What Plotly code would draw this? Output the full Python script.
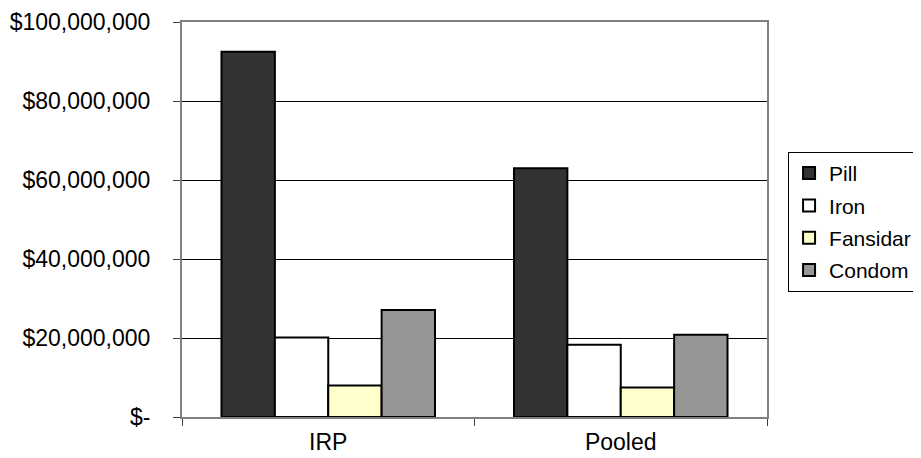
import plotly.graph_objects as go

categories = ["IRP", "Pooled"]
series_names = ["Pill", "Iron", "Fansidar", "Condom"]
pill = [92500000, 63000000]
iron = [20100000, 18300000]
fansidar = [8000000, 7500000]
condom = [27100000, 20800000]
tick_values = [0, 20000000, 40000000, 60000000, 80000000, 100000000]
tick_labels = ["$-", "$20,000,000", "$40,000,000", "$60,000,000", "$80,000,000", "$100,000,000"]

colors = ["#333333", "#FFFFFF", "#FFFFCC", "#969696"]
values = [pill, iron, fansidar, condom]

fig = go.Figure()
for name, vals, col in zip(series_names, values, colors):
    fig.add_trace(go.Bar(
        x=categories, y=vals, name=name, legendgroup=name,
        marker=dict(color=col, line=dict(color="black", width=2)),
    ))

FONT = "Liberation Sans, Arial, sans-serif"
fig.update_layout(
    width=921, height=458,
    margin=dict(l=174, r=141, t=14, b=49),
    paper_bgcolor="white", plot_bgcolor="white",
    barmode="group", bargap=0.27, bargroupgap=0,
    font=dict(family=FONT, size=21, color="black"),
    showlegend=True,
    legend=dict(
        x=1.036, y=0.671, xanchor="left", yanchor="top",
        bordercolor="black", borderwidth=1, bgcolor="white",
        font=dict(family=FONT, size=21, color="black"),
        traceorder="grouped", tracegroupgap=2,
    ),
)
fig.update_xaxes(
    automargin=False,
    showgrid=False, showline=True, linecolor="#808080", linewidth=2, mirror=True,
    ticks="outside", ticklen=7, tickcolor="#404040", tickson="boundaries",
    ticklabelstandoff=3,
    tickfont=dict(family=FONT, size=23, color="black"),
)
fig.update_yaxes(
    automargin=False,
    range=[0, 100000000], tickvals=tick_values, ticktext=tick_labels,
    showgrid=True, gridcolor="black", gridwidth=1,
    showline=True, linecolor="#808080", linewidth=2, mirror=True,
    ticks="outside", ticklen=7, tickcolor="#404040",
    ticklabelstandoff=18,
    tickfont=dict(family=FONT, size=23, color="black"),
    zeroline=False,
)
fig.write_html("out.html")
